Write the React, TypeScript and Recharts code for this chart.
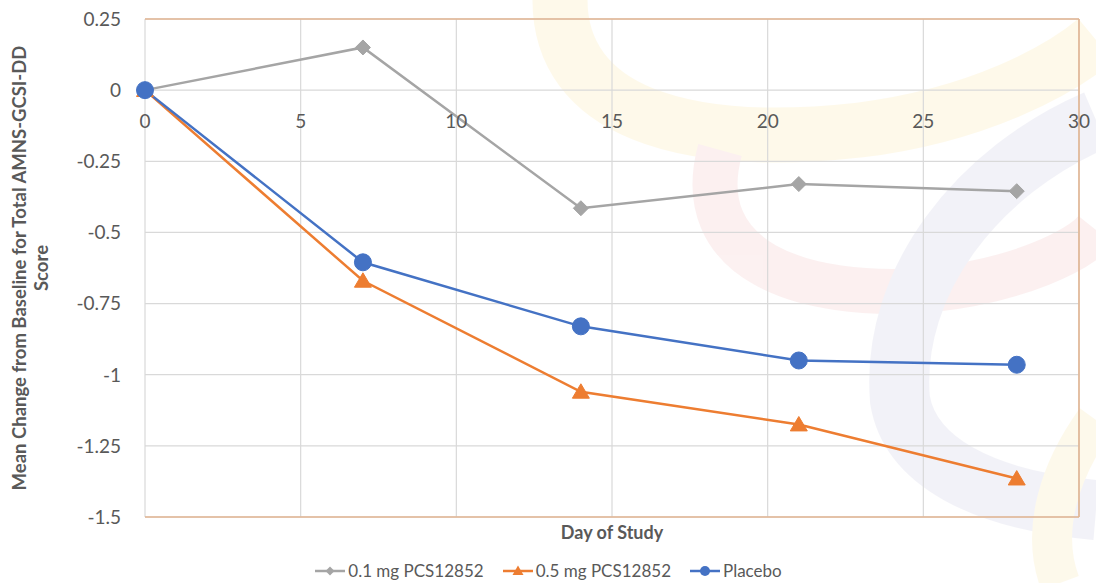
import React from 'react';
import { LineChart, Line, XAxis, YAxis, CartesianGrid, ReferenceLine } from 'recharts';

const days = [0, 7, 14, 21, 28];
const dose01 = [0, 0.15, -0.415, -0.33, -0.355];
const dose05 = [0, -0.67, -1.06, -1.175, -1.365];
const placebo = [0, -0.605, -0.83, -0.95, -0.965];
const xTicks = [0, 5, 10, 15, 20, 25, 30];
const yTicks = [0.25, 0, -0.25, -0.5, -0.75, -1, -1.25, -1.5];
const seriesNames = ['0.1 mg PCS12852', '0.5 mg PCS12852', 'Placebo'];

const data = days.map((d, i) => ({ day: d, a: dose01[i], b: dose05[i], c: placebo[i] }));

const W = 1096;
const H = 583;
const MARGIN = { top: 19, right: 17, left: 0, bottom: 0 };
const Y_AXIS_W = 145;
const X_AXIS_H = 66;
const PLOT_H = H - MARGIN.top - MARGIN.bottom - X_AXIS_H;
const Y_MIN = -1.5;
const Y_MAX = 0.25;
const ZERO_Y = MARGIN.top + (PLOT_H * Y_MAX) / (Y_MAX - Y_MIN);

const FONT = "Lato, 'Open Sans', sans-serif";
const TXT = '#595959';
const GRAY = '#A5A5A5';
const ORANGE = '#ED7D31';
const BLUE = '#4472C4';
const BORDER = '#E2B592';

const Diamond = (props: any) => {
  const { cx, cy } = props;
  if (cx == null || cy == null) return null;
  const s = 7.5;
  return <polygon points={`${cx},${cy - s} ${cx + s},${cy} ${cx},${cy + s} ${cx - s},${cy}`} fill={GRAY} stroke={GRAY} strokeWidth={1} />;
};
const Triangle = (props: any) => {
  const { cx, cy } = props;
  if (cx == null || cy == null) return null;
  const w = 8.5;
  const h = 8;
  return <polygon points={`${cx},${cy - h} ${cx + w},${cy + h * 0.8} ${cx - w},${cy + h * 0.8}`} fill={ORANGE} stroke={ORANGE} strokeWidth={1} />;
};
const Circle = (props: any) => {
  const { cx, cy } = props;
  if (cx == null || cy == null) return null;
  return <circle cx={cx} cy={cy} r={8.5} fill={BLUE} stroke={BLUE} strokeWidth={1} />;
};

const XTick = (props: any) => {
  const { x, payload } = props;
  return (
    <text x={x} y={ZERO_Y + 38} textAnchor="middle" fill={TXT} fontSize={19} fontFamily={FONT}>
      {payload.value}
    </text>
  );
};
const YTick = (props: any) => {
  const { y, payload } = props;
  return (
    <text x={121} y={y} dy="0.36em" textAnchor="end" fill={TXT} fontSize={19} fontFamily={FONT}>
      {String(payload.value)}
    </text>
  );
};

const XTitle = (props: any) => {
  const vb = props.viewBox || {};
  return (
    <text x={vb.x + vb.width / 2} y={vb.y + 22} textAnchor="middle" fill={TXT} fontSize={18} fontWeight="bold" fontFamily={FONT}>
      Day of Study
    </text>
  );
};
const YTitle = (props: any) => {
  const vb = props.viewBox || {};
  const cy = vb.y + vb.height / 2;
  return (
    <g>
      <text transform={`translate(26, ${cy}) rotate(-90)`} textAnchor="middle" fill={TXT} fontSize={18.5} fontWeight="bold" fontFamily={FONT}>
        Mean Change from Baseline for Total AMNS-GCSI-DD
      </text>
      <text transform={`translate(48, ${cy}) rotate(-90)`} textAnchor="middle" fill={TXT} fontSize={18.5} fontWeight="bold" fontFamily={FONT}>
        Score
      </text>
    </g>
  );
};

const LegendIcon = ({ kind }: { kind: number }) => {
  const c = kind === 0 ? GRAY : kind === 1 ? ORANGE : BLUE;
  return (
    <svg width={32} height={16} style={{ display: 'block' }}>
      <line x1={1} y1={8} x2={31} y2={8} stroke={c} strokeWidth={2.5} />
      {kind === 0 && <polygon points="16,3.5 20.5,8 16,12.5 11.5,8" fill={c} />}
      {kind === 1 && <polygon points="16,2.5 21.5,12 10.5,12" fill={c} />}
      {kind === 2 && <circle cx={16} cy={8} r={5} fill={c} />}
    </svg>
  );
};

const Watermark = () => (
  <svg width={W} height={H} style={{ position: 'absolute', left: 0, top: 0 }}>
    <g opacity={0.35}>
      <path d="M 560 0 C 560 110, 680 150, 860 130 C 980 115, 1060 70, 1096 40" fill="none" stroke="#FDF0C4" strokeWidth={55} />
      <path d="M 720 150 C 690 260, 800 300, 930 290 C 1020 280, 1080 250, 1096 230" fill="none" stroke="#F7D6D6" strokeWidth={45} />
      <path d="M 1096 120 C 980 170, 890 280, 900 400 C 910 460, 980 500, 1096 510" fill="none" stroke="#DCDCEC" strokeWidth={60} />
      <path d="M 1096 420 C 1060 470, 1040 530, 1060 583" fill="none" stroke="#FCEFC8" strokeWidth={40} />
    </g>
  </svg>
);

export default function App() {
  return (
    <div style={{ position: 'absolute', left: 0, top: 0, width: W, height: H, background: '#fff', overflow: 'hidden' }}>
      <Watermark />
      <div style={{ position: 'absolute', left: 0, top: 0 }}>
        <LineChart width={W} height={H} data={data} margin={MARGIN}>
          <CartesianGrid stroke="#D9D9D9" strokeWidth={1.2} />
          <XAxis
            dataKey="day"
            type="number"
            domain={[0, 30]}
            ticks={xTicks}
            height={X_AXIS_H}
            axisLine={false}
            tickLine={false}
            tick={<XTick />}
            label={<XTitle />}
          />
          <YAxis
            type="number"
            domain={[Y_MIN, Y_MAX]}
            ticks={yTicks}
            width={Y_AXIS_W}
            axisLine={false}
            tickLine={false}
            tick={<YTick />}
            label={<YTitle />}
            interval={0}
          />
          <ReferenceLine y={Y_MAX} stroke={BORDER} strokeWidth={1.6} />
          <ReferenceLine y={Y_MIN} stroke={BORDER} strokeWidth={1.6} />
          <ReferenceLine x={30} stroke={BORDER} strokeWidth={1.6} />
          <Line dataKey="a" name={seriesNames[0]} stroke={GRAY} strokeWidth={2.5} dot={<Diamond />} activeDot={false} isAnimationActive={false} />
          <Line dataKey="b" name={seriesNames[1]} stroke={ORANGE} strokeWidth={2.5} dot={<Triangle />} activeDot={false} isAnimationActive={false} />
          <Line dataKey="c" name={seriesNames[2]} stroke={BLUE} strokeWidth={2.5} dot={<Circle />} activeDot={false} isAnimationActive={false} />
        </LineChart>
      </div>
      <div
        style={{
          position: 'absolute',
          left: 0,
          top: 560,
          width: W,
          display: 'flex',
          justifyContent: 'center',
          alignItems: 'center',
          fontFamily: FONT,
          fontSize: 17,
          color: TXT,
        }}
      >
        {seriesNames.map((n, i) => (
          <div key={n} style={{ display: 'flex', alignItems: 'center', marginRight: i < 2 ? 18 : 0 }}>
            <LegendIcon kind={i} />
            <span style={{ marginLeft: 2, lineHeight: '22px' }}>{n}</span>
          </div>
        ))}
      </div>
    </div>
  );
}
